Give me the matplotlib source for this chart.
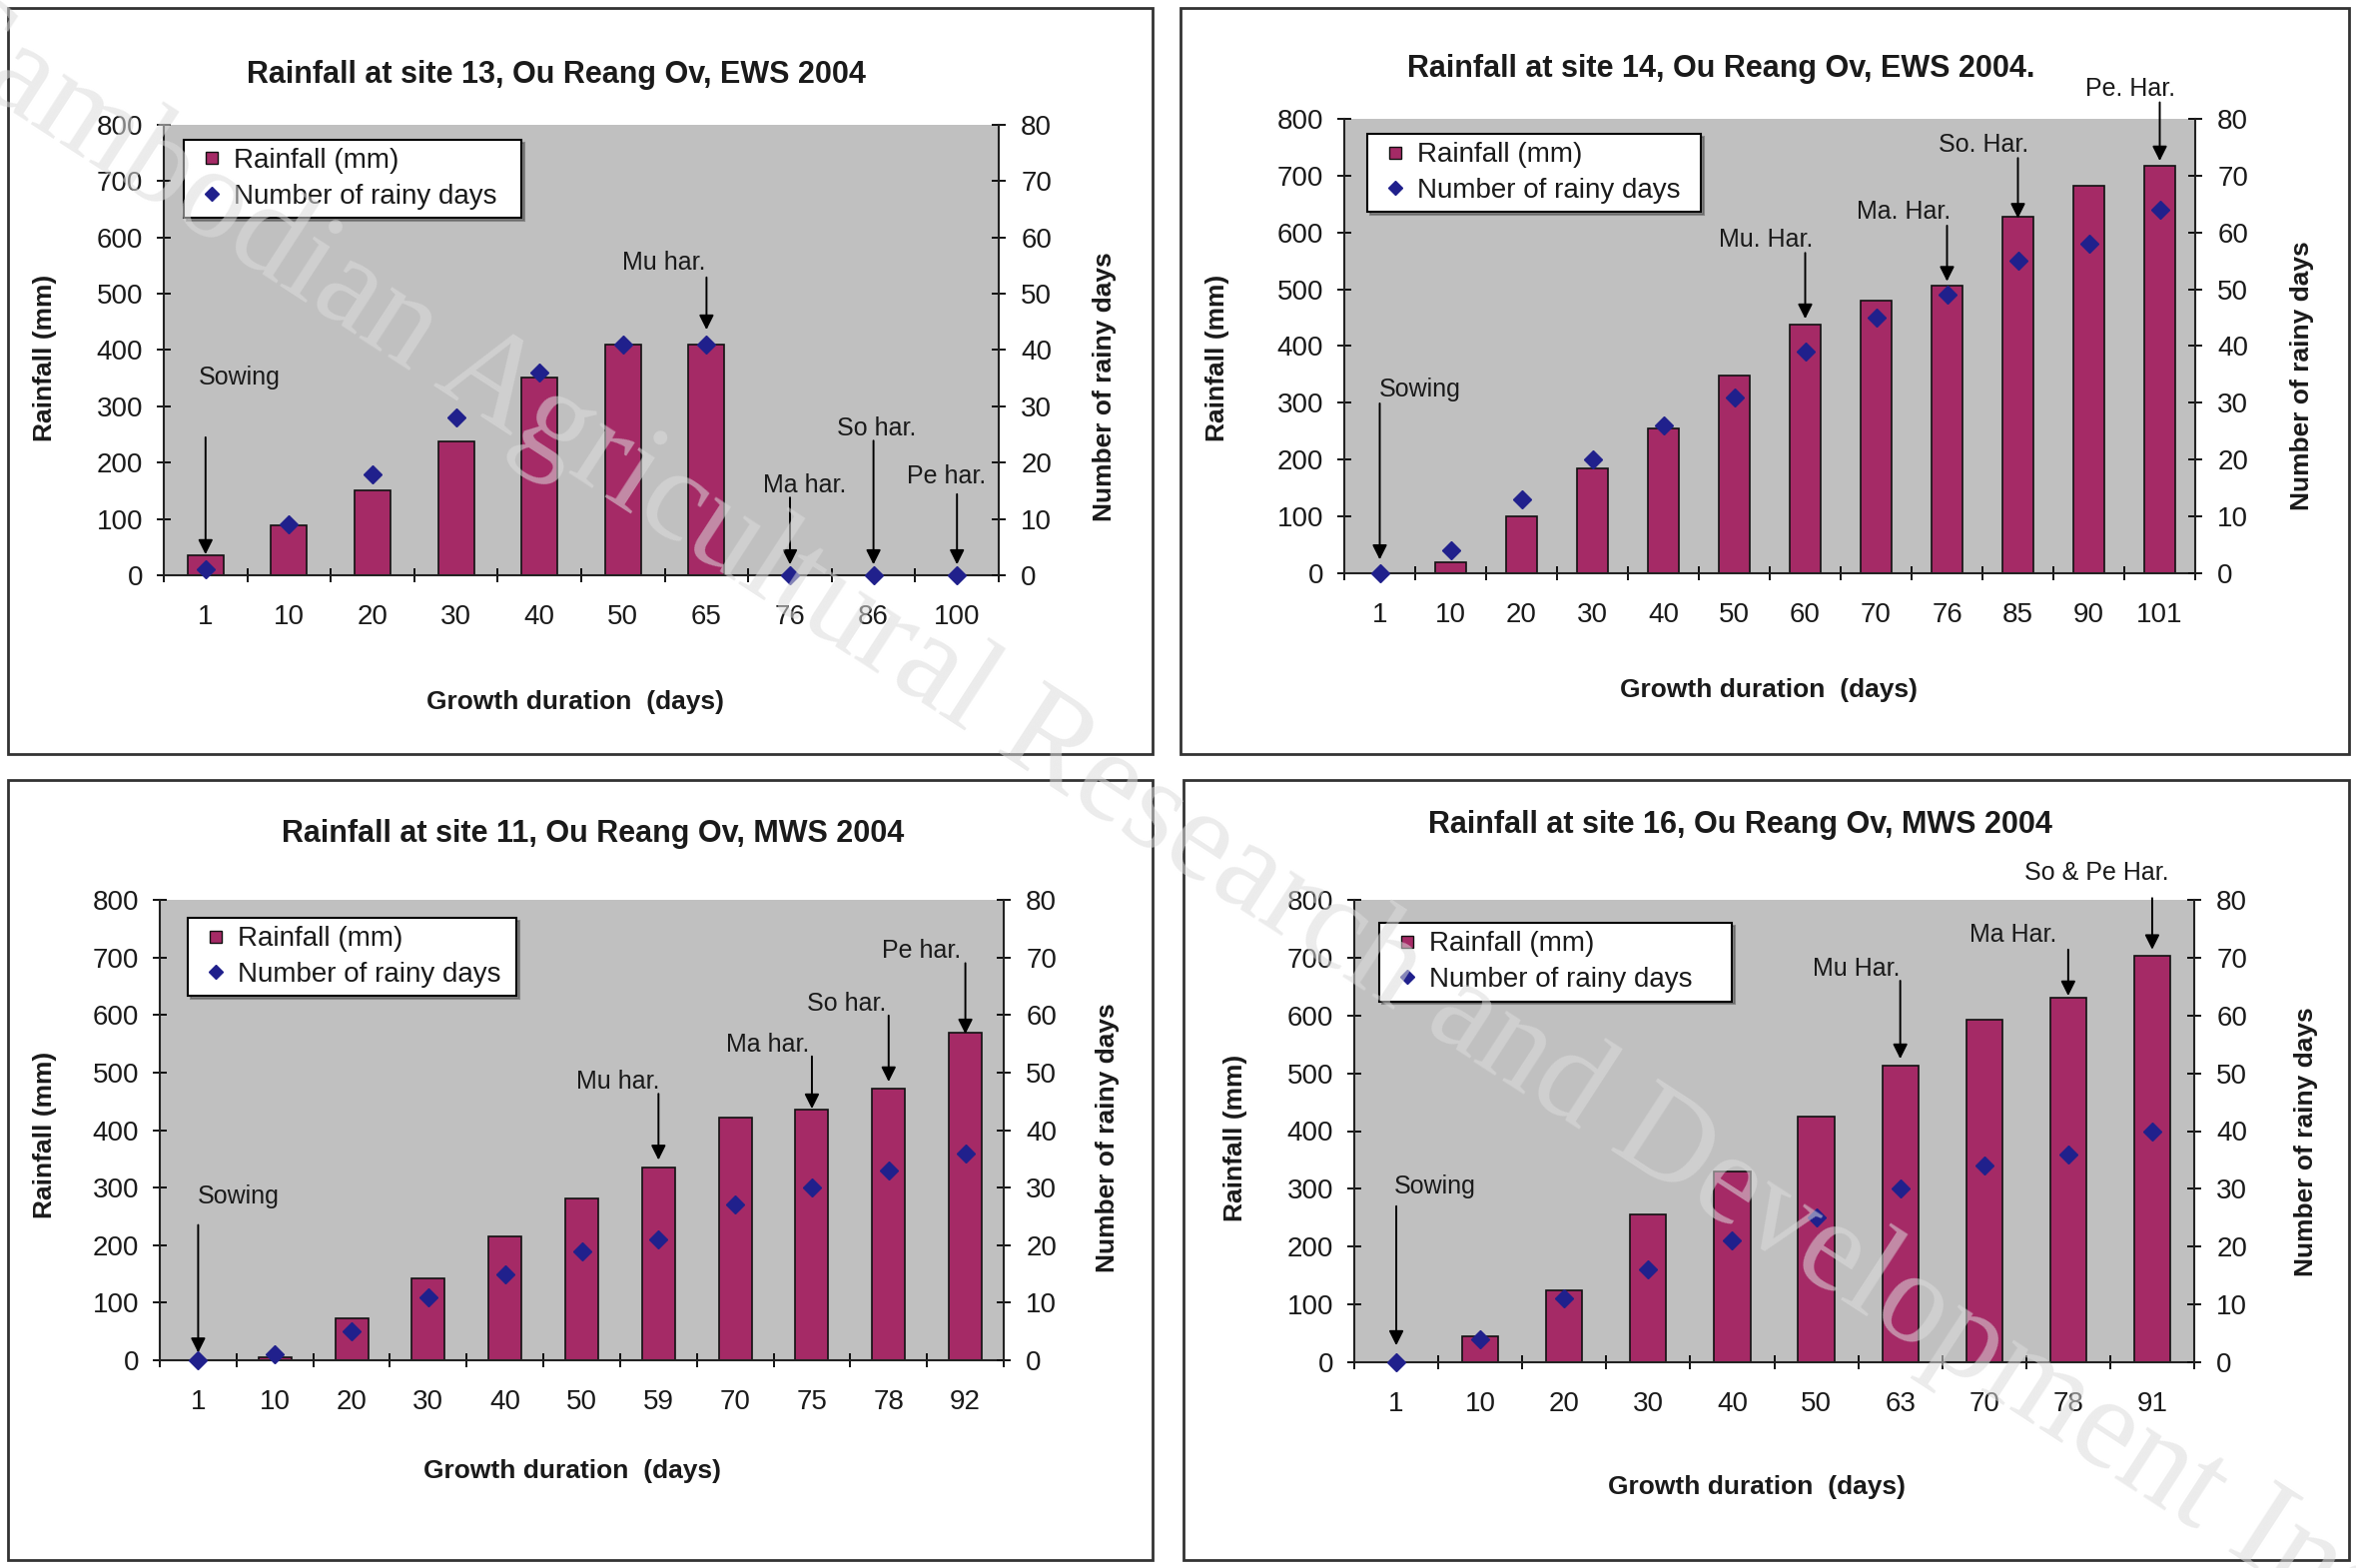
import matplotlib
matplotlib.use("Agg")
import matplotlib.pyplot as plt
from matplotlib.lines import Line2D
from matplotlib.patches import Rectangle

plt.rcParams["font.family"] = ["Liberation Sans", "DejaVu Sans"]

W, H = 2359, 1570

BAR_COLOR = "#A52A66"
DOT_COLOR = "#20208C"
PLOT_BG = "#C0C0C0"
TEXT_COLOR = "#1a1a1a"

# site 13, EWS 2004
days_13 = ["1", "10", "20", "30", "40", "50", "65", "76", "86", "100"]
rain_13 = [35, 89, 150, 237, 351, 410, 409, 0, 0, 0]
rainy_13 = [1, 9, 18, 28, 36, 41, 41, 0, 0, 0]

# site 14, EWS 2004
days_14 = ["1", "10", "20", "30", "40", "50", "60", "70", "76", "85", "90", "101"]
rain_14 = [0, 20, 100, 185, 255, 349, 438, 480, 507, 628, 682, 718]
rainy_14 = [0, 4, 13, 20, 26, 31, 39, 45, 49, 55, 58, 64]

# site 11, MWS 2004
days_11 = ["1", "10", "20", "30", "40", "50", "59", "70", "75", "78", "92"]
rain_11 = [0, 5, 73, 142, 215, 281, 335, 422, 435, 472, 569]
rainy_11 = [0, 1, 5, 11, 15, 19, 21, 27, 30, 33, 36]

# site 16, MWS 2004
days_16 = ["1", "10", "20", "30", "40", "50", "63", "70", "78", "91"]
rain_16 = [0, 45, 124, 255, 330, 425, 513, 593, 630, 703]
rainy_16 = [0, 4, 11, 16, 21, 25, 30, 34, 36, 40]

# growth stage labels: (text, category index)
stages_13 = [("Sowing", 0), ("Mu har.", 6), ("Ma har.", 7), ("So har.", 8), ("Pe har.", 9)]
stages_14 = [("Sowing", 0), ("Mu. Har.", 6), ("Ma. Har.", 8), ("So. Har.", 9), ("Pe. Har.", 11)]
stages_11 = [("Sowing", 0), ("Mu har.", 6), ("Ma har.", 8), ("So har.", 9), ("Pe har.", 10)]
stages_16 = [("Sowing", 0), ("Mu Har.", 6), ("Ma Har.", 8), ("So & Pe Har.", 9)]


def px(x, y):
    """pixel (from top-left) -> figure fraction"""
    return x / W, 1 - y / H


def rect(x0, y0, x1, y1):
    return [x0 / W, 1 - y1 / H, (x1 - x0) / W, (y1 - y0) / H]


def draw_panel(fig, box, plot, title, days, rain, rainy, stages, arrows, texts, leg_box):
    # outer frame of the panel
    fig.add_artist(Rectangle((box[0] / W, 1 - box[3] / H), (box[2] - box[0]) / W,
                             (box[3] - box[1]) / H, transform=fig.transFigure,
                             fill=False, edgecolor="#333333", lw=2))

    ax = fig.add_axes(rect(*plot))
    ax.set_facecolor(PLOT_BG)
    n = len(days)
    x = list(range(n))
    ax.bar(x, rain, width=0.43, color=BAR_COLOR, edgecolor="#111111", lw=1.2, zorder=2)
    ax.set_xlim(-0.5, n - 0.5)
    ax.set_ylim(0, 800)
    ax.set_yticks(range(0, 801, 100))
    ax.set_xticks([i - 0.5 for i in range(n + 1)])
    ax.set_xticklabels([])
    ax.set_xticks(x, minor=True)
    ax.set_xticklabels(days, minor=True)
    ax.tick_params(axis="x", which="major", direction="inout", length=10, width=1.3)
    ax.tick_params(axis="x", which="minor", length=0, pad=21, labelsize=20, labelcolor=TEXT_COLOR)
    ax.tick_params(axis="y", direction="inout", length=10, width=1.3, pad=10,
                   labelsize=20, labelcolor=TEXT_COLOR)
    for s in ["top", "right"]:
        ax.spines[s].set_visible(False)
    for s in ["left", "bottom"]:
        ax.spines[s].set_linewidth(1.5)
        ax.spines[s].set_color("#222222")

    ax2 = ax.twinx()
    ax2.set_ylim(0, 80)
    ax2.set_yticks(range(0, 81, 10))
    ax2.plot(x, rainy, "D", color=DOT_COLOR, ms=9, zorder=3, clip_on=False)
    ax2.tick_params(axis="y", direction="inout", length=10, width=1.3, pad=11,
                    labelsize=20, labelcolor=TEXT_COLOR)
    for s in ["top", "left", "bottom"]:
        ax2.spines[s].set_visible(False)
    ax2.spines["right"].set_linewidth(1.5)
    ax2.spines["right"].set_color("#222222")

    # stage arrows
    for (label, i), (dx, ty, y0, y1) in zip(stages, arrows):
        ax.annotate("", xy=(i, y1), xytext=(i, y0), annotation_clip=False,
                    arrowprops=dict(arrowstyle="-|>", color="black", lw=1.4,
                                    mutation_scale=22, shrinkA=0, shrinkB=0))
        ax.text(i + dx, ty, label, ha="center", va="center", fontsize=18,
                color=TEXT_COLOR, zorder=4)

    handles = [Line2D([], [], marker="s", ls="", color=BAR_COLOR, mec="#111111", ms=9),
               Line2D([], [], marker="D", ls="", color=DOT_COLOR, ms=7)]
    lx, ltop, lw = leg_box
    leg = ax2.legend(handles, ["Rainfall (mm)", "Number of rainy days"], loc="upper left",
                     bbox_to_anchor=(lx, 0, lw, ltop), mode="expand", fontsize=20,
                     frameon=True, fancybox=False, shadow=True, handlelength=1.4,
                     handletextpad=0.1, labelspacing=0.35, borderpad=0.3, borderaxespad=0)
    leg.get_frame().set_edgecolor("black")
    leg.get_frame().set_linewidth(1.5)
    for t in leg.get_texts():
        t.set_color(TEXT_COLOR)

    tx, xl, yl, yr = texts
    fig.text(*px(*tx), title, ha="center", va="center", fontsize=22, fontweight="bold",
             color=TEXT_COLOR)
    fig.text(*px(*xl), "Growth duration  (days)", ha="center", va="center", fontsize=19,
             fontweight="bold", color=TEXT_COLOR)
    fig.text(*px(*yl), "Rainfall (mm)", ha="center", va="center", rotation=90, fontsize=19,
             fontweight="bold", color=TEXT_COLOR)
    fig.text(*px(*yr), "Number of rainy days", ha="center", va="center", rotation=90,
             fontsize=19, fontweight="bold", color=TEXT_COLOR)


fig = plt.figure(figsize=(W / 100, H / 100), dpi=100)

draw_panel(fig, (8, 8, 1154, 755), (164, 125, 1000, 576),
           "Rainfall at site 13, Ou Reang Ov, EWS 2004", days_13, rain_13, rainy_13, stages_13,
           [(0.41, 351, 245, 37), (-0.51, 556, 529, 436), (0.18, 160, 138, 19),
            (0.04, 261, 239, 19), (-0.13, 176, 144, 19)],
           ((557, 75), (576, 703), (45, 358), (1106, 387)), (0.024, 0.967, 0.404))

draw_panel(fig, (1182, 8, 2352, 755), (1346, 119, 2198, 574),
           "Rainfall at site 14, Ou Reang Ov, EWS 2004.", days_14, rain_14, rainy_14, stages_14,
           [(0.57, 323, 299, 24), (-0.55, 588, 564, 448), (-0.61, 636, 612, 514),
            (-0.49, 755, 731, 625), (-0.42, 853, 829, 726)],
           ((1723, 69), (1771, 691), (1219, 358), (2305, 376)), (0.027, 0.967, 0.392))

draw_panel(fig, (8, 781, 1154, 1562), (160, 901, 1005, 1362),
           "Rainfall at site 11, Ou Reang Ov, MWS 2004", days_11, rain_11, rainy_11, stages_11,
           [(0.53, 285, 235, 13), (-0.53, 484, 463, 348), (-0.57, 549, 528, 437),
            (-0.55, 620, 599, 484), (-0.57, 711, 690, 567)],
           ((594, 835), (573, 1473), (45, 1136), (1109, 1139)), (0.033, 0.961, 0.39))

draw_panel(fig, (1185, 781, 2352, 1562), (1356, 901, 2197, 1364),
           "Rainfall at site 16, Ou Reang Ov, MWS 2004", days_16, rain_16, rainy_16, stages_16,
           [(0.46, 304, 270, 29), (-0.52, 680, 660, 525), (-0.66, 740, 714, 634),
            (-0.66, 847, 803, 714)],
           ((1742, 826), (1759, 1489), (1237, 1139), (2309, 1143)), (0.03, 0.95, 0.42))

# faint diagonal watermark across the page
fig.text(*px(1263, 887), "Cambodian Agricultural Research and Development Institute",
         family=["Liberation Serif", "DejaVu Serif"], fontsize=94, color="#dcdcdc", alpha=0.55,
         rotation=-33, rotation_mode="anchor", ha="center", va="center", zorder=10)

fig.savefig("out.png", dpi=100, facecolor="white")
